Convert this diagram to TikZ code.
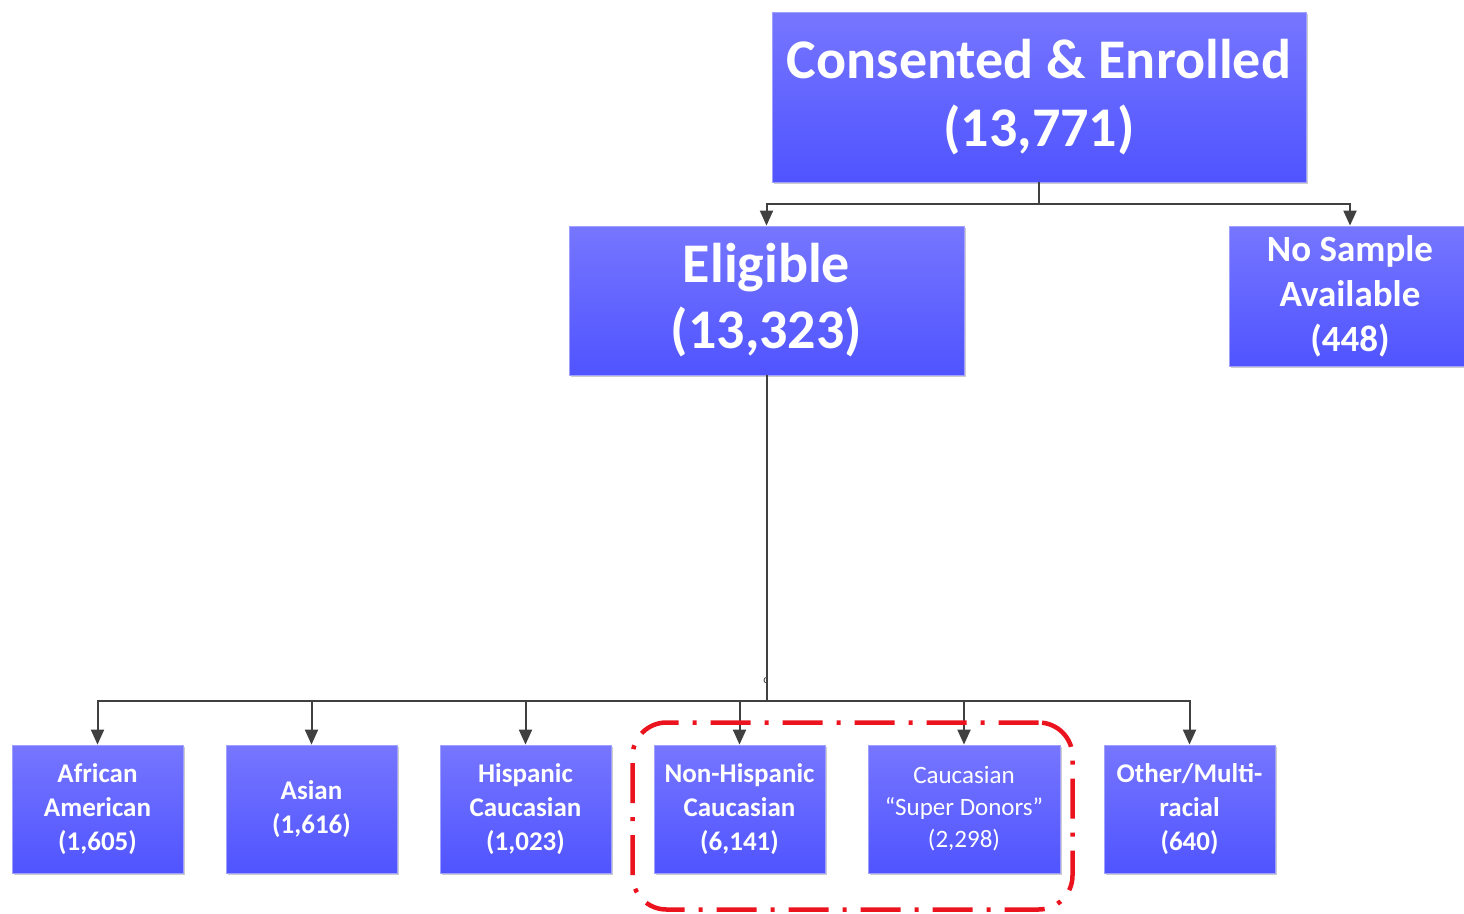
\documentclass[tikz,border=0pt]{standalone}
\usepackage{fontspec}
\setmainfont{Carlito}
\usetikzlibrary{arrows.meta,shadows}
\definecolor{boxtop}{RGB}{118,118,255}
\definecolor{boxbot}{RGB}{80,84,255}
\definecolor{boxedge}{RGB}{160,160,255}
\definecolor{linecol}{RGB}{64,64,64}
\definecolor{dashred}{RGB}{235,20,30}
\tikzset{
  box/.style={draw=boxedge, line width=0.8pt, top color=boxtop, bottom color=boxbot,
    text=white, align=center, inner sep=0pt, font=\bfseries,
    drop shadow={shadow xshift=2pt, shadow yshift=-2pt, opacity=0.2, fill=black}},
  small/.style={box, minimum width=171pt, minimum height=128pt, font=\bfseries\fontsize{27}{34}\selectfont},
  conn/.style={draw=linecol, line width=2pt},
  arr/.style={conn, -{Triangle[width=13pt,length=15pt]}},
  group/.style={draw=dashred, line width=4.5pt, rounded corners=34pt,
    dash pattern=on 40pt off 14pt on 4pt off 14pt}
}
\begin{document}
\begin{tikzpicture}[x=1pt,y=-1pt]
\useasboundingbox (0,0) rectangle (1464,913);
\node[box, minimum width=534pt, minimum height=170pt, font=\bfseries\fontsize{56}{68}\selectfont] (top) at (1039,97) {Consented \& Enrolled\\(13,771)};
\node[box, minimum width=395pt, minimum height=149pt, font=\bfseries\fontsize{56}{66}\selectfont] (elig) at (766.5,300.5) {Eligible\\(13,323)};
\node[box, minimum width=242pt, minimum height=140pt, font=\bfseries\fontsize{37}{45}\selectfont] (nosamp) at (1350,296) {No Sample\\Available\\(448)};
\node[small] (afr) at (97.5,809) {African\\American\\(1,605)};
\node[small] (asian) at (311.5,809) {Asian\\(1,616)};
\node[small] (hisp) at (525.5,809) {Hispanic\\Caucasian\\(1,023)};
\node[small] (nonhisp) at (739.5,809) {Non-Hispanic\\Caucasian\\(6,141)};
\node[small, minimum width=192pt, font=\fontsize{25}{32}\selectfont] (super) at (964,809) {Caucasian\\“Super Donors”\\(2,298)};
\node[small] (other) at (1189.5,809) {Other/Multi-\\racial\\(640)};
\coordinate (j1) at (1039,204);
\coordinate (j2) at (766.5,701);
\draw[conn] (top.south) -- (j1);
\draw[arr] (j1) -| (elig.north);
\draw[arr] (j1) -| (nosamp.north);
\draw[conn] (elig.south) -- (j2);
\foreach \n in {afr,asian,hisp,nonhisp,super,other}{
  \draw[arr] (j2) -| (\n.north);
}
\node[text=linecol, font=\fontsize{12}{12}\selectfont, inner sep=0pt] (clabel) at (766,681) {c};
\node[group, minimum width=440pt, minimum height=187pt] (grp) at (852.5,816) {};
\end{tikzpicture}
\end{document}
